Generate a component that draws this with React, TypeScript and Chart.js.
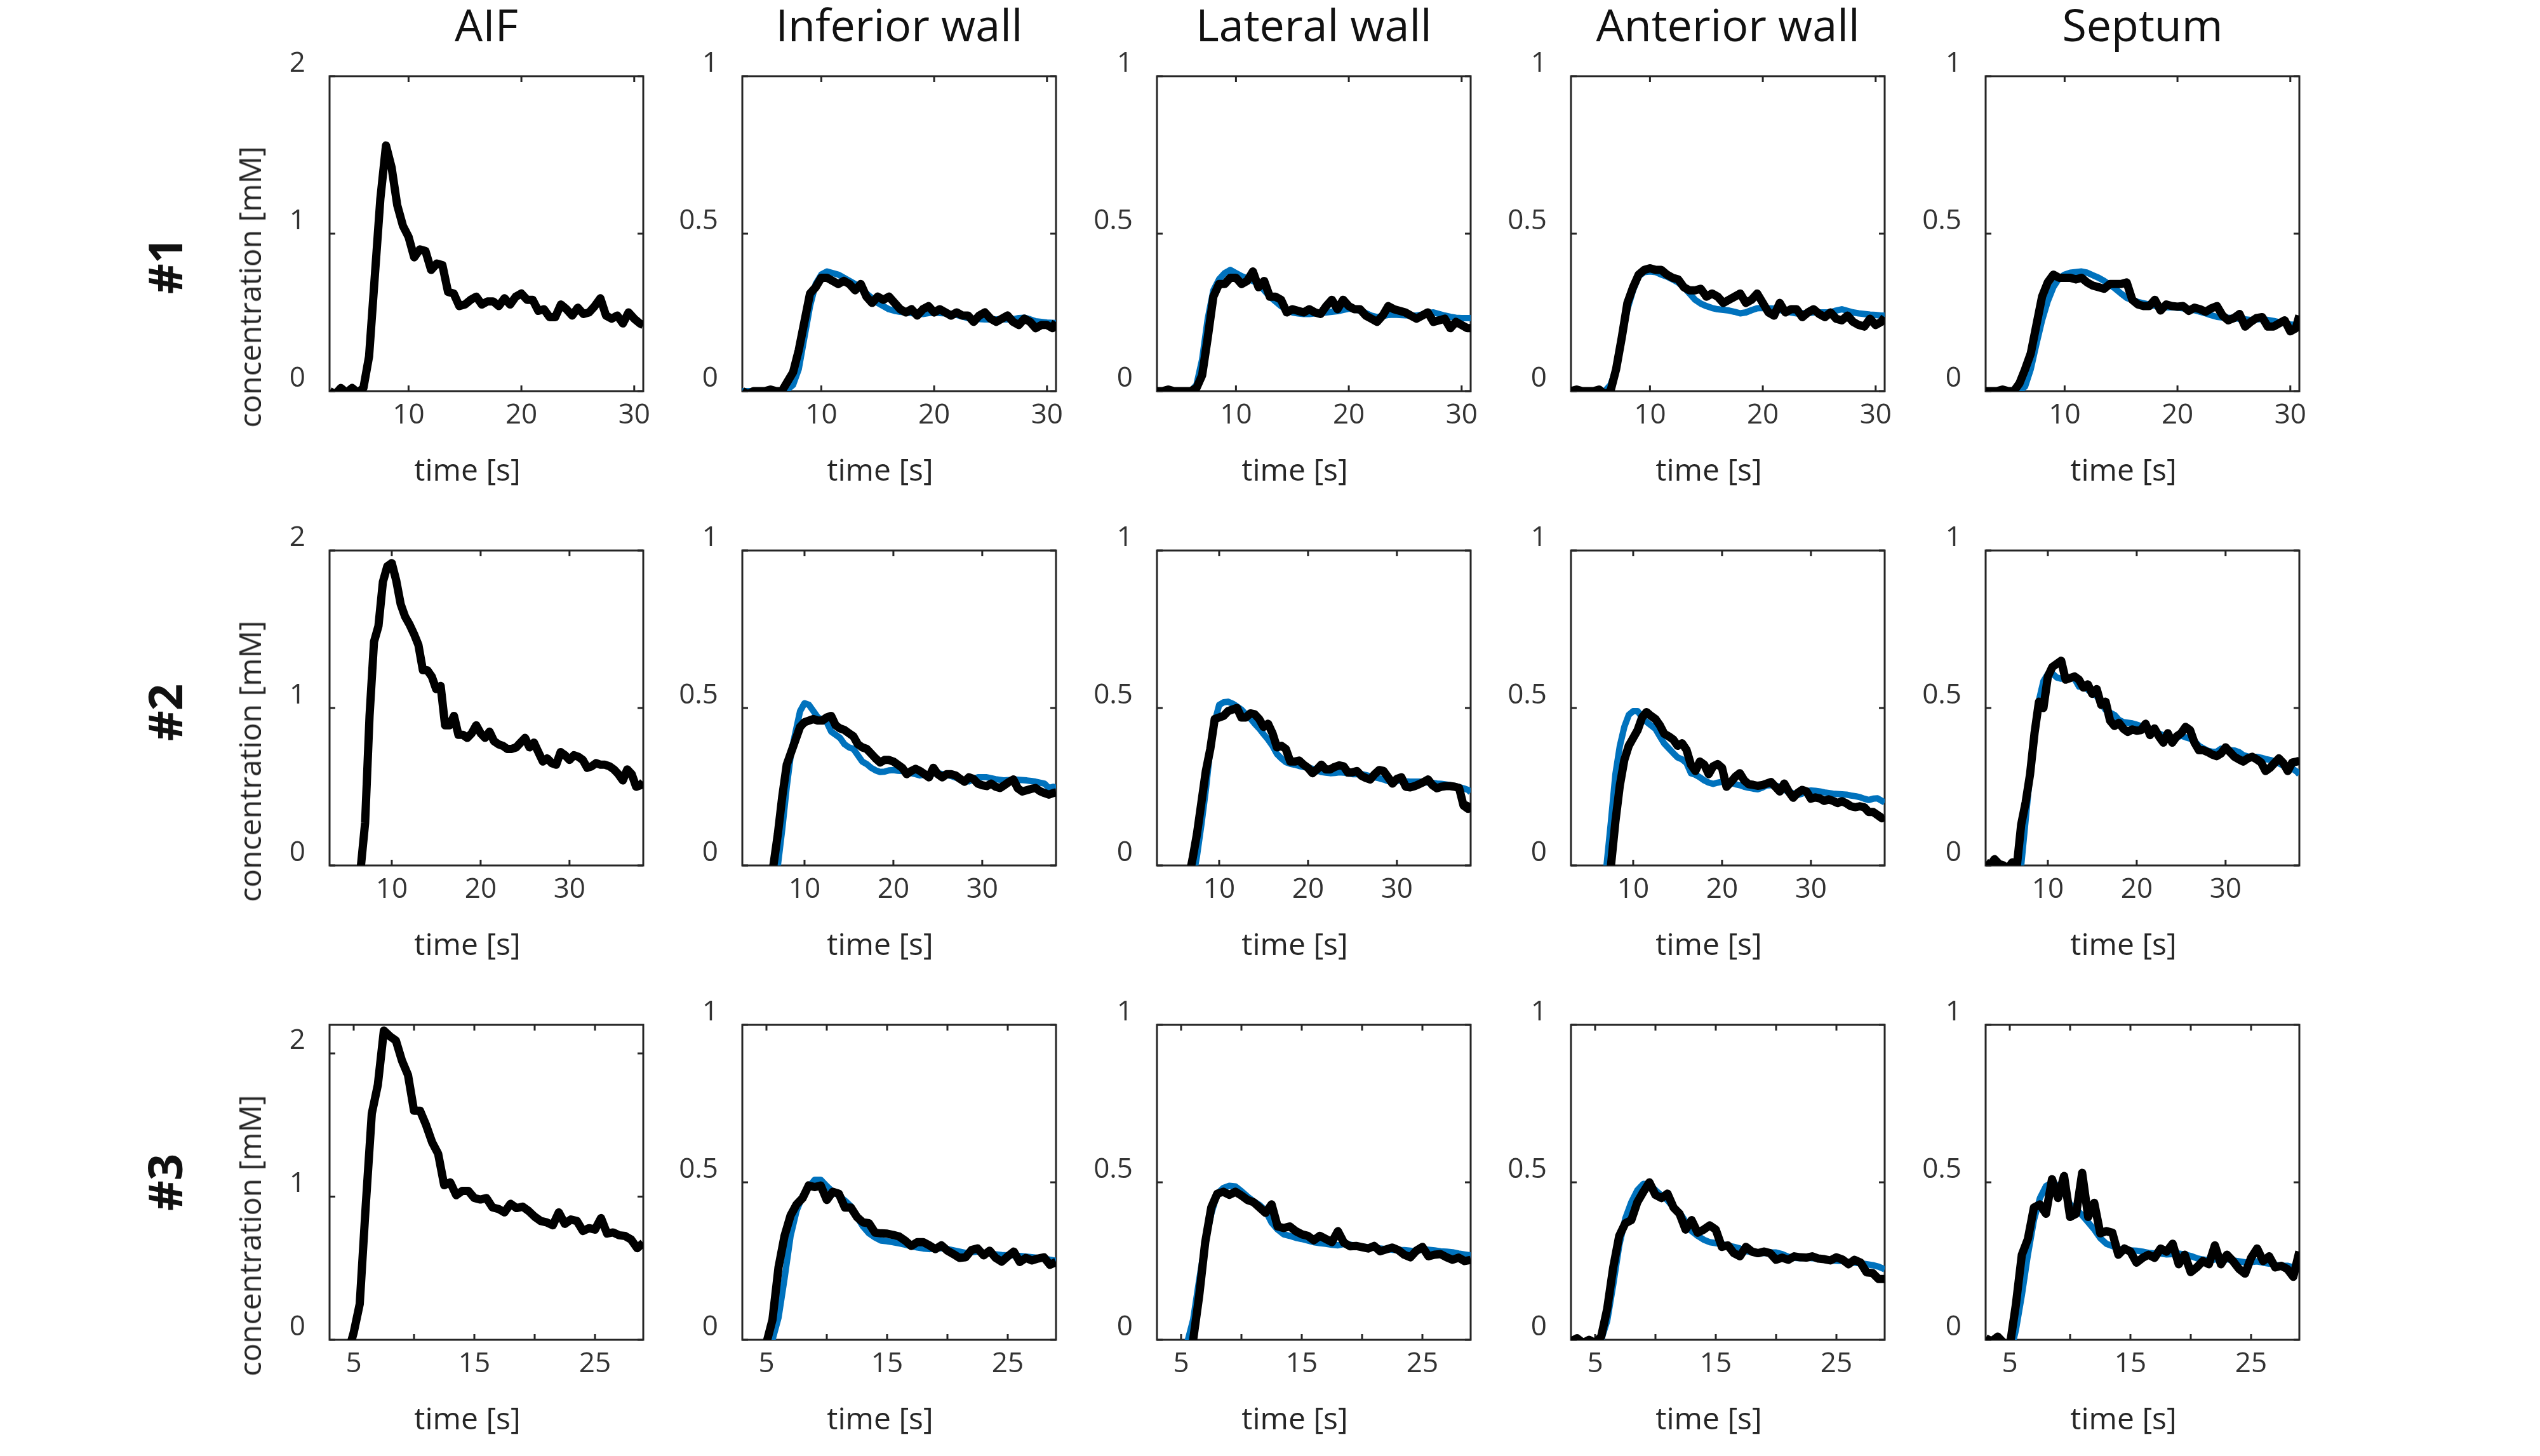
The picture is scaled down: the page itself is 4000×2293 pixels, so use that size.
import React, { useEffect, useRef } from "react";
import { Chart, registerables } from "chart.js";

Chart.register(...registerables);

// ---------------- DATA ----------------
const COLUMN_TITLES = ["AIF", "Inferior wall", "Lateral wall", "Anterior wall", "Septum"];
const ROW_LABELS = ["#1", "#2", "#3"];
const X_TITLE = "time [s]";
const Y_TITLE = "concentration [mM]";

const TIME_1 = [
  3, 3.5, 4, 4.5, 5, 5.5, 6, 6.5, 7, 7.5,
  8, 8.5, 9, 9.5, 10, 10.5, 11, 11.5, 12, 12.5,
  13, 13.5, 14, 14.5, 15, 15.5, 16, 16.5, 17, 17.5,
  18, 18.5, 19, 19.5, 20, 20.5, 21, 21.5, 22, 22.5,
  23, 23.5, 24, 24.5, 25, 25.5, 26, 26.5, 27, 27.5,
  28, 28.5, 29, 29.5, 30, 30.5, 30.8,
];
const TIME_2 = [
  3, 3.5, 4, 4.5, 5, 5.5, 6, 6.5, 7, 7.5,
  8, 8.5, 9, 9.5, 10, 10.5, 11, 11.5, 12, 12.5,
  13, 13.5, 14, 14.5, 15, 15.5, 16, 16.5, 17, 17.5,
  18, 18.5, 19, 19.5, 20, 20.5, 21, 21.5, 22, 22.5,
  23, 23.5, 24, 24.5, 25, 25.5, 26, 26.5, 27, 27.5,
  28, 28.5, 29, 29.5, 30, 30.5, 31, 31.5, 32, 32.5,
  33, 33.5, 34, 34.5, 35, 35.5, 36, 36.5, 37, 37.5,
  38, 38.3,
];
const TIME_3 = [
  3, 3.5, 4, 4.5, 5, 5.5, 6, 6.5, 7, 7.5,
  8, 8.5, 9, 9.5, 10, 10.5, 11, 11.5, 12, 12.5,
  13, 13.5, 14, 14.5, 15, 15.5, 16, 16.5, 17, 17.5,
  18, 18.5, 19, 19.5, 20, 20.5, 21, 21.5, 22, 22.5,
  23, 23.5, 24, 24.5, 25, 25.5, 26, 26.5, 27, 27.5,
  28, 28.5, 29,
];

// Subject #1
const AIF_1 = [
  0, -0.02, 0.02, -0.01, 0.02, -0.01, 0.02, 0.22, 0.72, 1.22,
  1.56, 1.42, 1.18, 1.05, 0.98, 0.85, 0.9, 0.89, 0.77, 0.81,
  0.8, 0.63, 0.62, 0.54, 0.55, 0.58, 0.6, 0.55, 0.57, 0.57,
  0.54, 0.59, 0.55, 0.6, 0.62, 0.58, 0.58, 0.51, 0.52, 0.47,
  0.47, 0.55, 0.52, 0.48, 0.53, 0.49, 0.5, 0.54, 0.59, 0.48,
  0.46, 0.48, 0.43, 0.5, 0.46, 0.43, 0.42,
];
const INF_1_MEAS = [
  0, -0.01, 0, 0, 0, 0.005, 0, 0, 0.03, 0.06,
  0.13, 0.22, 0.31, 0.33, 0.36, 0.36, 0.35, 0.34, 0.35, 0.34,
  0.32, 0.34, 0.3, 0.28, 0.3, 0.29, 0.3, 0.28, 0.26, 0.25,
  0.26, 0.24, 0.26, 0.27, 0.25, 0.26, 0.25, 0.24, 0.25, 0.24,
  0.24, 0.22, 0.24, 0.25, 0.23, 0.22, 0.23, 0.24, 0.22, 0.21,
  0.23, 0.22, 0.2, 0.21, 0.21, 0.2, 0.22,
];
const INF_1_FIT = [
  0, 0, 0, 0, 0, 0, 0, 0, 0.005, 0.02,
  0.07, 0.17, 0.27, 0.34, 0.37, 0.38, 0.375, 0.37, 0.36, 0.35,
  0.34, 0.325, 0.31, 0.295, 0.28, 0.27, 0.26, 0.255, 0.252, 0.25,
  0.248, 0.245, 0.245, 0.248, 0.25, 0.248, 0.247, 0.245, 0.242, 0.237,
  0.232, 0.23, 0.229, 0.228, 0.228, 0.228, 0.228, 0.228, 0.228, 0.232,
  0.233, 0.228, 0.222, 0.22, 0.218, 0.217, 0.216,
];
const LAT_1_MEAS = [
  0, 0, 0.005, 0, 0, 0, 0, 0.01, 0.05, 0.17,
  0.3, 0.34, 0.34, 0.36, 0.36, 0.34, 0.35, 0.38, 0.33, 0.35,
  0.3, 0.3, 0.29, 0.25, 0.26, 0.255, 0.25, 0.26, 0.25, 0.245,
  0.27, 0.29, 0.26, 0.29, 0.27, 0.26, 0.26, 0.24, 0.23, 0.22,
  0.24, 0.27, 0.26, 0.255, 0.25, 0.24, 0.23, 0.24, 0.25, 0.22,
  0.225, 0.23, 0.2, 0.22, 0.21, 0.2, 0.2,
];
const LAT_1_FIT = [
  0, 0, 0, 0, 0, 0, 0, 0.02, 0.1, 0.23,
  0.32, 0.355, 0.375, 0.385, 0.375, 0.365, 0.358, 0.35, 0.34, 0.32,
  0.3, 0.285, 0.27, 0.258, 0.25, 0.247, 0.245, 0.245, 0.247, 0.248,
  0.25, 0.252, 0.254, 0.258, 0.262, 0.26, 0.255, 0.248, 0.24, 0.235,
  0.238, 0.242, 0.243, 0.242, 0.241, 0.24, 0.24, 0.243, 0.248, 0.25,
  0.245, 0.24, 0.236, 0.233, 0.232, 0.232, 0.232,
];
const ANT_1_MEAS = [
  0, 0.005, 0, 0, 0, 0.005, -0.01, 0, 0.07, 0.17,
  0.28, 0.33, 0.37, 0.385, 0.39, 0.385, 0.385, 0.37, 0.36, 0.355,
  0.33, 0.32, 0.32, 0.325, 0.3, 0.31, 0.3, 0.28, 0.29, 0.3,
  0.31, 0.28, 0.29, 0.31, 0.28, 0.25, 0.24, 0.28, 0.25, 0.26,
  0.26, 0.235, 0.25, 0.26, 0.245, 0.235, 0.25, 0.23, 0.225, 0.24,
  0.22, 0.21, 0.205, 0.23, 0.21, 0.22, 0.235,
];
const ANT_1_FIT = [
  0, 0, 0, 0, 0, 0, 0, 0.02, 0.07, 0.17,
  0.26, 0.32, 0.365, 0.378, 0.38, 0.378, 0.37, 0.364, 0.355, 0.345,
  0.33, 0.31, 0.29, 0.278, 0.27, 0.264, 0.26, 0.258, 0.256, 0.252,
  0.247, 0.25, 0.257, 0.263, 0.264, 0.263, 0.262, 0.258, 0.254, 0.25,
  0.247, 0.247, 0.248, 0.25, 0.25, 0.25, 0.25, 0.256, 0.26, 0.255,
  0.25, 0.247, 0.245, 0.243, 0.242, 0.24, 0.24,
];
const SEP_1_MEAS = [
  0, 0, 0, 0.005, 0, 0, 0.025, 0.07, 0.12, 0.21,
  0.3, 0.345, 0.37, 0.36, 0.36, 0.36, 0.355, 0.36, 0.345, 0.335,
  0.33, 0.325, 0.34, 0.34, 0.34, 0.345, 0.29, 0.275, 0.27, 0.27,
  0.29, 0.256, 0.275, 0.27, 0.268, 0.27, 0.255, 0.265, 0.26, 0.252,
  0.263, 0.27, 0.24, 0.225, 0.232, 0.245, 0.205, 0.22, 0.232, 0.235,
  0.205, 0.205, 0.215, 0.225, 0.19, 0.2, 0.24,
];
const SEP_1_FIT = [
  0, 0, 0, 0, 0, 0, 0, 0.015, 0.07, 0.15,
  0.225, 0.285, 0.33, 0.358, 0.37, 0.376, 0.378, 0.38, 0.376, 0.368,
  0.36, 0.35, 0.338, 0.325, 0.31, 0.296, 0.29, 0.283, 0.279, 0.275,
  0.271, 0.267, 0.266, 0.266, 0.265, 0.263, 0.26, 0.257, 0.252, 0.247,
  0.241, 0.236, 0.234, 0.233, 0.232, 0.23, 0.228, 0.226, 0.228, 0.229,
  0.226, 0.223, 0.219, 0.215, 0.212, 0.21, 0.209,
];

// Subject #2
const AIF_2 = [
  -0.1, -0.1, -0.1, -0.1, -0.1, -0.1, -0.1, -0.02, 0.27, 0.95,
  1.42, 1.52, 1.8, 1.9, 1.92, 1.81, 1.66, 1.58, 1.53, 1.47,
  1.4, 1.24, 1.24, 1.2, 1.12, 1.14, 0.89, 0.89, 0.95, 0.83,
  0.83, 0.81, 0.84, 0.89, 0.84, 0.81, 0.85, 0.79, 0.77, 0.76,
  0.74, 0.74, 0.75, 0.78, 0.81, 0.75, 0.78, 0.72, 0.66, 0.68,
  0.65, 0.64, 0.72, 0.7, 0.67, 0.7, 0.69, 0.67, 0.62, 0.63,
  0.65, 0.64, 0.64, 0.63, 0.61, 0.58, 0.54, 0.61, 0.58, 0.5,
  0.51, 0.53,
];
const INF_2_MEAS = [
  -0.05, -0.05, -0.05, -0.05, -0.05, -0.05, -0.05, 0, 0.1, 0.22,
  0.32, 0.36, 0.4, 0.44, 0.455, 0.46, 0.465, 0.46, 0.46, 0.47,
  0.475, 0.445, 0.435, 0.43, 0.42, 0.41, 0.385, 0.375, 0.37, 0.355,
  0.34, 0.327, 0.335, 0.335, 0.33, 0.32, 0.31, 0.29, 0.3, 0.307,
  0.3, 0.29, 0.28, 0.31, 0.29, 0.28, 0.29, 0.29, 0.286, 0.275,
  0.266, 0.28, 0.275, 0.26, 0.255, 0.252, 0.26, 0.25, 0.246, 0.255,
  0.265, 0.273, 0.245, 0.235, 0.239, 0.243, 0.246, 0.236, 0.23, 0.225,
  0.23, 0.232,
];
const INF_2_FIT = [
  -0.05, -0.05, -0.05, -0.05, -0.05, -0.05, -0.05, -0.05, 0, 0.117,
  0.25, 0.36, 0.425, 0.49, 0.515, 0.51, 0.49, 0.47, 0.463, 0.455,
  0.425, 0.415, 0.405, 0.385, 0.375, 0.37, 0.35, 0.33, 0.322, 0.31,
  0.302, 0.297, 0.298, 0.302, 0.303, 0.301, 0.3, 0.296, 0.293, 0.29,
  0.286, 0.288, 0.29, 0.292, 0.293, 0.29, 0.287, 0.284, 0.279, 0.274,
  0.268, 0.267, 0.275, 0.28, 0.28, 0.28, 0.277, 0.274, 0.272, 0.27,
  0.271, 0.273, 0.272, 0.271, 0.27, 0.268, 0.266, 0.263, 0.26, 0.246,
  0.25, 0.246,
];
const LAT_2_MEAS = [
  -0.05, -0.05, -0.05, -0.05, -0.05, -0.05, -0.05, -0.05, 0.02, 0.1,
  0.2, 0.3, 0.37, 0.465, 0.47, 0.475, 0.49, 0.495, 0.5, 0.47,
  0.47, 0.483, 0.48, 0.465, 0.44, 0.45, 0.42, 0.375, 0.38, 0.37,
  0.33, 0.33, 0.333, 0.32, 0.31, 0.293, 0.305, 0.32, 0.305, 0.305,
  0.313, 0.318, 0.315, 0.295, 0.296, 0.3, 0.285, 0.278, 0.273, 0.29,
  0.303, 0.3, 0.28, 0.26, 0.275, 0.28, 0.25, 0.248, 0.252, 0.258,
  0.265, 0.273, 0.255, 0.245, 0.25, 0.252, 0.252, 0.25, 0.246, 0.19,
  0.18, 0.198,
];
const LAT_2_FIT = [
  -0.05, -0.05, -0.05, -0.05, -0.05, -0.05, -0.05, -0.05, -0.05, 0.03,
  0.13, 0.24, 0.37, 0.456, 0.51, 0.518, 0.52, 0.514, 0.505, 0.495,
  0.48, 0.467, 0.45, 0.435, 0.417, 0.4, 0.38, 0.354, 0.34, 0.328,
  0.323, 0.32, 0.316, 0.313, 0.31, 0.307, 0.302, 0.297, 0.295, 0.293,
  0.294, 0.296, 0.295, 0.292, 0.29, 0.29, 0.29, 0.287, 0.283, 0.28,
  0.277, 0.273, 0.268, 0.267, 0.269, 0.269, 0.267, 0.266, 0.266, 0.266,
  0.265, 0.263, 0.262, 0.26, 0.259, 0.257, 0.255, 0.252, 0.249, 0.245,
  0.24, 0.232,
];
const ANT_2_MEAS = [
  -0.05, -0.05, -0.05, -0.05, -0.05, -0.05, -0.05, -0.05, -0.05, 0,
  0.14, 0.255, 0.335, 0.38, 0.405, 0.43, 0.47, 0.487, 0.475, 0.465,
  0.445, 0.418, 0.41, 0.4, 0.38, 0.388, 0.367, 0.32, 0.3, 0.33,
  0.32, 0.29, 0.315, 0.322, 0.31, 0.25, 0.265, 0.282, 0.293, 0.27,
  0.258, 0.256, 0.253, 0.255, 0.26, 0.265, 0.25, 0.235, 0.26, 0.235,
  0.215, 0.23, 0.24, 0.235, 0.212, 0.216, 0.213, 0.205, 0.21, 0.205,
  0.198, 0.204, 0.197, 0.188, 0.185, 0.188, 0.185, 0.17, 0.17, 0.16,
  0.15, 0.157,
];
const ANT_2_FIT = [
  -0.05, -0.05, -0.05, -0.05, -0.05, -0.05, -0.05, -0.05, 0, 0.14,
  0.29, 0.38, 0.44, 0.478, 0.49, 0.49, 0.47, 0.456, 0.445, 0.434,
  0.41, 0.387, 0.372, 0.357, 0.343, 0.337, 0.325, 0.293, 0.288, 0.28,
  0.27, 0.263, 0.259, 0.263, 0.266, 0.264, 0.262, 0.258, 0.255, 0.25,
  0.247, 0.244, 0.242, 0.247, 0.254, 0.255, 0.253, 0.25, 0.24, 0.234,
  0.229, 0.224, 0.228, 0.236, 0.238, 0.237, 0.235, 0.232, 0.23, 0.228,
  0.227, 0.226, 0.225, 0.222, 0.22, 0.217, 0.212, 0.208, 0.212, 0.213,
  0.205, 0.2,
];
const SEP_2_MEAS = [
  0.01, 0, 0.02, 0.005, 0, -0.01, 0.01, -0.005, 0.13, 0.2,
  0.29, 0.42, 0.52, 0.5, 0.6, 0.63, 0.64, 0.65, 0.59, 0.595,
  0.6, 0.59, 0.565, 0.575, 0.545, 0.56, 0.51, 0.52, 0.46, 0.443,
  0.453, 0.434, 0.424, 0.432, 0.428, 0.43, 0.45, 0.414, 0.435, 0.41,
  0.39, 0.42, 0.39, 0.41, 0.42, 0.44, 0.43, 0.39, 0.366, 0.366,
  0.36, 0.352, 0.347, 0.356, 0.375, 0.36, 0.345, 0.337, 0.33, 0.34,
  0.345, 0.337, 0.327, 0.3, 0.31, 0.325, 0.34, 0.325, 0.3, 0.327,
  0.33, 0.332,
];
const SEP_2_FIT = [
  -0.05, -0.05, -0.05, -0.05, -0.05, -0.05, -0.05, -0.05, 0, 0.145,
  0.29, 0.43, 0.525, 0.585, 0.608, 0.61, 0.597, 0.593, 0.595, 0.597,
  0.593, 0.568, 0.568, 0.558, 0.546, 0.538, 0.515, 0.494, 0.485, 0.478,
  0.462, 0.455, 0.453, 0.451, 0.447, 0.442, 0.439, 0.434, 0.427, 0.419,
  0.413, 0.408, 0.405, 0.406, 0.412, 0.407, 0.403, 0.395, 0.38, 0.372,
  0.364, 0.361, 0.361, 0.371, 0.367, 0.366, 0.365, 0.36, 0.35, 0.346,
  0.345, 0.345, 0.342, 0.338, 0.335, 0.331, 0.324, 0.317, 0.314, 0.308,
  0.298, 0.289,
];

// Subject #3
const AIF_3 = [
  -0.1, -0.1, -0.1, -0.1, 0.05, 0.25, 0.94, 1.58, 1.78, 2.16,
  2.12, 2.09, 1.95, 1.85, 1.6, 1.6, 1.5, 1.38, 1.3, 1.08,
  1.1, 1.01, 1.04, 1.04, 0.99, 0.98, 0.99, 0.925, 0.914, 0.89,
  0.95, 0.92, 0.93, 0.9, 0.86, 0.83, 0.82, 0.8, 0.89, 0.81,
  0.84, 0.83, 0.76, 0.78, 0.77, 0.85, 0.742, 0.75, 0.73, 0.725,
  0.7, 0.64, 0.677,
];
const INF_3_MEAS = [
  -0.05, -0.05, -0.05, -0.05, -0.01, 0.064, 0.23, 0.33, 0.395, 0.43,
  0.45, 0.49, 0.485, 0.49, 0.444, 0.47, 0.464, 0.42, 0.42, 0.39,
  0.373, 0.37, 0.34, 0.338, 0.337, 0.333, 0.328, 0.315, 0.298, 0.31,
  0.31, 0.3, 0.288, 0.3, 0.283, 0.272, 0.26, 0.262, 0.285, 0.29,
  0.268, 0.283, 0.26, 0.248, 0.265, 0.28, 0.247, 0.26, 0.252, 0.258,
  0.262, 0.238, 0.247,
];
const INF_3_FIT = [
  -0.05, -0.05, -0.05, -0.05, -0.05, 0, 0.07, 0.195, 0.33, 0.41,
  0.457, 0.485, 0.508, 0.508, 0.488, 0.47, 0.458, 0.442, 0.424, 0.39,
  0.36, 0.338, 0.325, 0.315, 0.313, 0.31, 0.306, 0.302, 0.297, 0.293,
  0.29, 0.288, 0.29, 0.291, 0.288, 0.284, 0.28, 0.276, 0.278, 0.28,
  0.277, 0.274, 0.271, 0.269, 0.268, 0.268, 0.266, 0.264, 0.262, 0.26,
  0.258, 0.254, 0.251,
];
const LAT_3_MEAS = [
  -0.05, -0.05, -0.05, -0.05, -0.05, -0.05, 0, 0.14, 0.31, 0.42,
  0.464, 0.47, 0.46, 0.47, 0.458, 0.444, 0.437, 0.42, 0.403, 0.43,
  0.36, 0.355, 0.36, 0.345, 0.335, 0.33, 0.316, 0.33, 0.32, 0.31,
  0.345, 0.308, 0.297, 0.298, 0.294, 0.29, 0.298, 0.281, 0.287, 0.293,
  0.285, 0.27, 0.262, 0.283, 0.295, 0.265, 0.27, 0.272, 0.262, 0.254,
  0.261, 0.25, 0.254,
];
const LAT_3_FIT = [
  -0.05, -0.05, -0.05, -0.05, -0.05, -0.01, 0.064, 0.19, 0.31, 0.4,
  0.464, 0.482, 0.489, 0.487, 0.472, 0.455, 0.44, 0.428, 0.41, 0.372,
  0.35, 0.335, 0.33, 0.324, 0.32, 0.315, 0.31, 0.307, 0.305, 0.302,
  0.3, 0.304, 0.302, 0.298, 0.296, 0.294, 0.292, 0.29, 0.288, 0.286,
  0.285, 0.285, 0.283, 0.28, 0.288, 0.286, 0.284, 0.281, 0.28, 0.278,
  0.274, 0.271, 0.268,
];
const ANT_3_MEAS = [
  -0.005, 0.005, -0.01, 0, -0.01, 0.01, 0.098, 0.23, 0.33, 0.37,
  0.38, 0.437, 0.47, 0.5, 0.46, 0.45, 0.464, 0.42, 0.4, 0.35,
  0.38, 0.34, 0.35, 0.363, 0.35, 0.295, 0.3, 0.275, 0.265, 0.295,
  0.28, 0.275, 0.28, 0.275, 0.254, 0.261, 0.254, 0.265, 0.262, 0.261,
  0.265, 0.258, 0.256, 0.252, 0.262, 0.255, 0.24, 0.254, 0.245, 0.214,
  0.212, 0.193, 0.193,
];
const ANT_3_FIT = [
  -0.05, -0.05, -0.05, -0.05, -0.05, 0, 0.06, 0.175, 0.3, 0.385,
  0.437, 0.475, 0.495, 0.494, 0.475, 0.458, 0.443, 0.42, 0.404, 0.375,
  0.345, 0.33, 0.318, 0.31, 0.307, 0.304, 0.299, 0.295, 0.29, 0.281,
  0.279, 0.276, 0.275, 0.277, 0.277, 0.272, 0.264, 0.26, 0.259, 0.261,
  0.259, 0.258, 0.257, 0.252, 0.251, 0.25, 0.247, 0.245, 0.243, 0.24,
  0.237, 0.232, 0.224,
];
const SEP_3_MEAS = [
  0.005, -0.005, 0.01, -0.01, -0.02, 0.11, 0.27, 0.32, 0.42, 0.43,
  0.4, 0.51, 0.45, 0.52, 0.39, 0.4, 0.53, 0.39, 0.435, 0.338,
  0.345, 0.34, 0.27, 0.29, 0.28, 0.245, 0.26, 0.27, 0.26, 0.29,
  0.28, 0.305, 0.24, 0.27, 0.215, 0.23, 0.25, 0.24, 0.3, 0.24,
  0.27, 0.25, 0.225, 0.21, 0.26, 0.29, 0.25, 0.265, 0.23, 0.235,
  0.225, 0.2, 0.28,
];
const SEP_3_FIT = [
  -0.05, -0.05, -0.05, -0.05, -0.05, 0.03, 0.142, 0.27, 0.38, 0.45,
  0.488, 0.499, 0.49, 0.468, 0.43, 0.415, 0.395, 0.373, 0.35, 0.323,
  0.305, 0.298, 0.289, 0.284, 0.284, 0.283, 0.28, 0.276, 0.274, 0.274,
  0.271, 0.272, 0.274, 0.271, 0.266, 0.259, 0.255, 0.252, 0.255, 0.26,
  0.256, 0.252, 0.249, 0.246, 0.247, 0.249, 0.245, 0.242, 0.238, 0.235,
  0.235, 0.23, 0.225,
];

const X_RANGES = [[3, 30.8], [3, 38.3], [3, 29]];
const X_TICKS = [[10, 20, 30], [10, 20, 30], [5, 10, 15, 20, 25]];
const X_TICK_LABELS = [[10, 20, 30], [10, 20, 30], [5, 15, 25]];
const AIF_Y_MAX = [2, 2, 2.2];
const AIF_Y_TICKS = [0, 1, 2];
const TISSUE_Y_MAX = 1;
const TISSUE_Y_TICKS = [0, 0.5, 1];

// ---------------- LAYOUT ----------------
const FONT = "'Open Sans', 'Noto Sans', sans-serif";
const COL_LEFT = [519, 1169, 1822, 2474, 3127];
const ROW_TOP = [120, 867, 1614];
const BOX_W = 494;
const BOX_H = 496;
const PL = 170;
const PR = 40;
const PT = 70;
const PB = 100;

const TIMES = [TIME_1, TIME_2, TIME_3];
const PANELS: { meas: number[]; fit: number[] | null }[][] = [
  [
    { meas: AIF_1, fit: null },
    { meas: INF_1_MEAS, fit: INF_1_FIT },
    { meas: LAT_1_MEAS, fit: LAT_1_FIT },
    { meas: ANT_1_MEAS, fit: ANT_1_FIT },
    { meas: SEP_1_MEAS, fit: SEP_1_FIT },
  ],
  [
    { meas: AIF_2, fit: null },
    { meas: INF_2_MEAS, fit: INF_2_FIT },
    { meas: LAT_2_MEAS, fit: LAT_2_FIT },
    { meas: ANT_2_MEAS, fit: ANT_2_FIT },
    { meas: SEP_2_MEAS, fit: SEP_2_FIT },
  ],
  [
    { meas: AIF_3, fit: null },
    { meas: INF_3_MEAS, fit: INF_3_FIT },
    { meas: LAT_3_MEAS, fit: LAT_3_FIT },
    { meas: ANT_3_MEAS, fit: ANT_3_FIT },
    { meas: SEP_3_MEAS, fit: SEP_3_FIT },
  ],
];

const boxPlugin = {
  id: "matlabBox",
  beforeDatasetsDraw(chart: any) {
    const { ctx, chartArea: a, scales } = chart;
    ctx.save();
    ctx.strokeStyle = "#262626";
    ctx.lineWidth = 3;
    ctx.strokeRect(a.left, a.top, a.right - a.left, a.bottom - a.top);
    const len = 9;
    ctx.beginPath();
    scales.x.ticks.forEach((t: any) => {
      const px = scales.x.getPixelForValue(t.value);
      ctx.moveTo(px, a.bottom);
      ctx.lineTo(px, a.bottom - len);
      ctx.moveTo(px, a.top);
      ctx.lineTo(px, a.top + len);
    });
    scales.y.ticks.forEach((t: any) => {
      const py = scales.y.getPixelForValue(t.value);
      ctx.moveTo(a.left, py);
      ctx.lineTo(a.left + len, py);
      ctx.moveTo(a.right, py);
      ctx.lineTo(a.right - len, py);
    });
    ctx.stroke();
    ctx.restore();
  },
};

function toPoints(times: number[], vals: number[]) {
  const n = Math.min(times.length, vals.length);
  const out: { x: number; y: number }[] = [];
  for (let i = 0; i < n; i++) out.push({ x: times[i], y: vals[i] });
  return out;
}

function Panel({ row, col }: { row: number; col: number }) {
  const ref = useRef<HTMLCanvasElement>(null);
  const W = PL + BOX_W + PR;
  const H = PT + BOX_H + PB;
  useEffect(() => {
    const canvas = ref.current;
    if (!canvas) return;
    const spec = PANELS[row][col];
    const times = TIMES[row];
    const isAif = col === 0;
    const yTicks = isAif ? AIF_Y_TICKS : TISSUE_Y_TICKS;
    const datasets: any[] = [
      {
        data: toPoints(times, spec.meas),
        borderColor: "#000000",
        borderWidth: 13,
        borderJoinStyle: "round",
        pointRadius: 0,
        tension: 0,
        fill: false,
      },
    ];
    if (spec.fit) {
      datasets.push({
        data: toPoints(times, spec.fit),
        borderColor: "#0072BD",
        borderWidth: 10,
        borderJoinStyle: "round",
        pointRadius: 0,
        tension: 0,
        fill: false,
      });
    }
    const tickFont = { family: FONT, size: 44 };
    const chart = new Chart(canvas, {
      type: "line",
      data: { datasets },
      options: {
        animation: false,
        responsive: false,
        maintainAspectRatio: false,
        events: [],
        layout: { padding: { left: 0, top: PT, right: PR, bottom: 0 } },
        plugins: { legend: { display: false }, tooltip: { enabled: false }, title: { display: false } },
        scales: {
          x: {
            type: "linear",
            min: X_RANGES[row][0],
            max: X_RANGES[row][1],
            afterBuildTicks: (s: any) => {
              s.ticks = X_TICKS[row].map((v) => ({ value: v }));
            },
            afterFit: (s: any) => {
              s.height = PB;
            },
            grid: { display: false, drawTicks: false },
            border: { display: false },
            ticks: {
              autoSkip: false,
              maxRotation: 0,
              minRotation: 0,
              padding: 12,
              color: "#333333",
              font: tickFont,
              callback: (v: any) => (X_TICK_LABELS[row].includes(Number(v)) ? String(v) : ""),
            },
          },
          y: {
            type: "linear",
            min: 0,
            max: isAif ? AIF_Y_MAX[row] : TISSUE_Y_MAX,
            afterBuildTicks: (s: any) => {
              s.ticks = yTicks.map((v) => ({ value: v }));
            },
            afterFit: (s: any) => {
              s.width = PL;
            },
            grid: { display: false, drawTicks: false },
            border: { display: false },
            ticks: {
              autoSkip: false,
              padding: 38,
              labelOffset: -20,
              color: "#333333",
              font: tickFont,
              callback: (v: any) => String(v),
            },
          },
        },
      } as any,
      plugins: [boxPlugin],
    });
    const a = chart.chartArea;
    canvas.style.left = `${COL_LEFT[col] - a.left}px`;
    canvas.style.top = `${ROW_TOP[row] - a.top}px`;
    return () => chart.destroy();
  }, [row, col]);
  return (
    <canvas
      ref={ref}
      width={W}
      height={H}
      style={{
        position: "absolute",
        left: COL_LEFT[col] - PL,
        top: ROW_TOP[row] - PT,
        width: W,
        height: H,
      }}
    />
  );
}

function Text({
  x,
  y,
  size,
  bold,
  rotate,
  color,
  children,
}: {
  x: number;
  y: number;
  size: number;
  bold?: boolean;
  rotate?: boolean;
  color?: string;
  children: React.ReactNode;
}) {
  return (
    <div
      style={{
        position: "absolute",
        left: x,
        top: y,
        transform: `translate(-50%, -50%)${rotate ? " rotate(-90deg)" : ""}`,
        fontFamily: FONT,
        fontSize: size,
        fontWeight: bold ? 700 : 400,
        lineHeight: 1,
        whiteSpace: "nowrap",
        color: color || "#262626",
      }}
    >
      {children}
    </div>
  );
}

export default function App() {
  const texts: React.ReactNode[] = [];
  COLUMN_TITLES.forEach((t, c) => {
    texts.push(
      <Text key={`title-${c}`} x={COL_LEFT[c] + BOX_W / 2} y={38} size={70} color="#111111">
        {t}
      </Text>
    );
  });
  const rowLabelY = [418, 1122, 1862];
  ROW_LABELS.forEach((t, r) => {
    texts.push(
      <Text key={`row-${r}`} x={259} y={rowLabelY[r]} size={74} bold rotate color="#111111">
        {t}
      </Text>
    );
    texts.push(
      <Text key={`ylab-${r}`} x={COL_LEFT[0] - 126} y={ROW_TOP[r] + 332} size={48} rotate>
        {Y_TITLE}
      </Text>
    );
    COL_LEFT.forEach((cl, c) => {
      texts.push(
        <Text key={`xlab-${r}-${c}`} x={cl + BOX_W / 2 - 30} y={ROW_TOP[r] + BOX_H + 123} size={48}>
          {X_TITLE}
        </Text>
      );
    });
  });
  const panels: React.ReactNode[] = [];
  for (let r = 0; r < 3; r++) {
    for (let c = 0; c < 5; c++) {
      panels.push(<Panel key={`p-${r}-${c}`} row={r} col={c} />);
    }
  }
  return (
    <div
      style={{
        position: "absolute",
        left: 0,
        top: 0,
        width: 4000,
        height: 2293,
        background: "#ffffff",
        overflow: "hidden",
      }}
    >
      {panels}
      {texts}
    </div>
  );
}
